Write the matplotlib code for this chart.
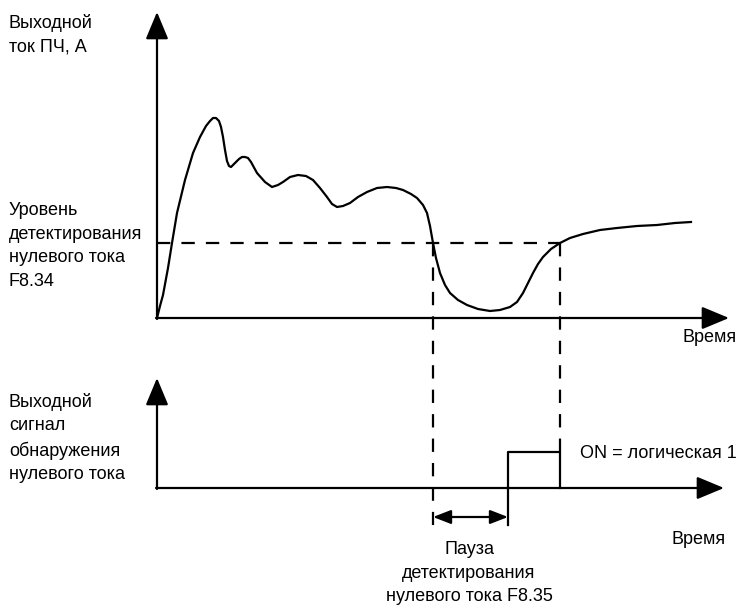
import matplotlib.pyplot as plt

plt.rcParams['font.family'] = ['Liberation Sans', 'DejaVu Sans']

# output current curve (pixel units)
curve_x = [157, 158, 160, 163, 168, 172, 177, 185, 193, 200, 206, 210, 213, 216, 219, 221, 223,
           225, 227, 229, 231, 233, 236, 239, 242, 245, 248, 251, 257, 265, 272, 278, 283,
           290, 298, 306, 313, 320, 327, 332, 337, 343, 350, 358, 367, 377, 387, 396, 403,
           411, 417, 423, 427, 430, 433, 436, 440, 445, 450, 458, 467, 478, 490, 500, 510,
           517, 523, 528, 533, 538, 543, 551, 560, 570, 583, 600, 617, 637, 657, 675, 691]
curve_y = [318, 314, 306, 295, 268, 243, 213, 180, 153, 137, 126, 121, 118, 118, 121, 127, 137,
           150, 161, 166, 167, 165, 162, 159, 157, 157, 158, 162, 173, 182, 187, 185, 182,
           177, 175, 176, 180, 188, 197, 204, 207, 206, 203, 197, 192, 188, 187, 188, 190,
           194, 198, 205, 213, 226, 243, 258, 273, 285, 293, 300, 305, 309, 311, 310, 307,
           302, 293, 283, 273, 264, 257, 249, 243, 238, 234, 230, 228, 226, 225, 223, 222]

level_y = 243
cross_x = [433, 560]
pulse_x = [508, 508, 560, 560]
pulse_y = [488, 452, 452, 488]

fig = plt.figure(figsize=(7.39, 6.15), dpi=100)
ax = fig.add_axes([0, 0, 1, 1])
ax.set_xlim(0, 739)
ax.set_ylim(615, 0)
ax.axis('off')

lw = 1.6
arrow = dict(arrowstyle='-|>,head_length=1.2,head_width=0.5', color='black', lw=lw,
             mutation_scale=14, shrinkA=0, shrinkB=0)

# axes of the top graph
ax.annotate('', xy=(157, 12), xytext=(157, 319), arrowprops=arrow)
ax.annotate('', xy=(729, 318), xytext=(156, 318), arrowprops=arrow)
# axes of the bottom graph
ax.annotate('', xy=(157, 378), xytext=(157, 489), arrowprops=arrow)
ax.annotate('', xy=(724, 488), xytext=(156, 488), arrowprops=arrow)

ax.plot(curve_x, curve_y, color='black', lw=lw, solid_joinstyle='round')

dash = dict(color='black', lw=lw, dashes=(6, 5))
ax.plot([157, cross_x[1]], [level_y, level_y], **dash)
ax.plot([cross_x[0], cross_x[0]], [level_y, 525], **dash)
ax.plot([cross_x[1], cross_x[1]], [level_y, 452], **dash)

ax.plot(pulse_x, pulse_y, color='black', lw=lw)
ax.plot([508, 508], [488, 525], color='black', lw=lw)

dbl = dict(arrowstyle='<|-|>,head_length=0.9,head_width=0.35', color='black', lw=lw,
           mutation_scale=12, shrinkA=0, shrinkB=0)
ax.annotate('', xy=(508, 517), xytext=(433, 517), arrowprops=dbl)

fs = 13
ls = 1.5
ax.text(9, 35, 'Выходной\nток ПЧ, А', fontsize=fs, va='center', linespacing=ls)
ax.text(9, 246, 'Уровень\nдетектирования\nнулевого тока\nF8.34', fontsize=fs, va='center',
        linespacing=ls)
ax.text(9, 438, 'Выходной\nсигнал\nобнаружения\nнулевого тока', fontsize=fs, va='center',
        linespacing=ls)
ax.text(737, 338, 'Время', fontsize=fs, va='center', ha='right')
ax.text(726, 539, 'Время', fontsize=fs, va='center', ha='right')
ax.text(580, 454, 'ON = логическая 1', fontsize=fs, va='center')
ax.text(469, 573, 'Пауза\nдетектирования\nнулевого тока F8.35', fontsize=fs, va='center',
        ha='center', linespacing=ls)

fig.savefig('out.png', dpi=100)
